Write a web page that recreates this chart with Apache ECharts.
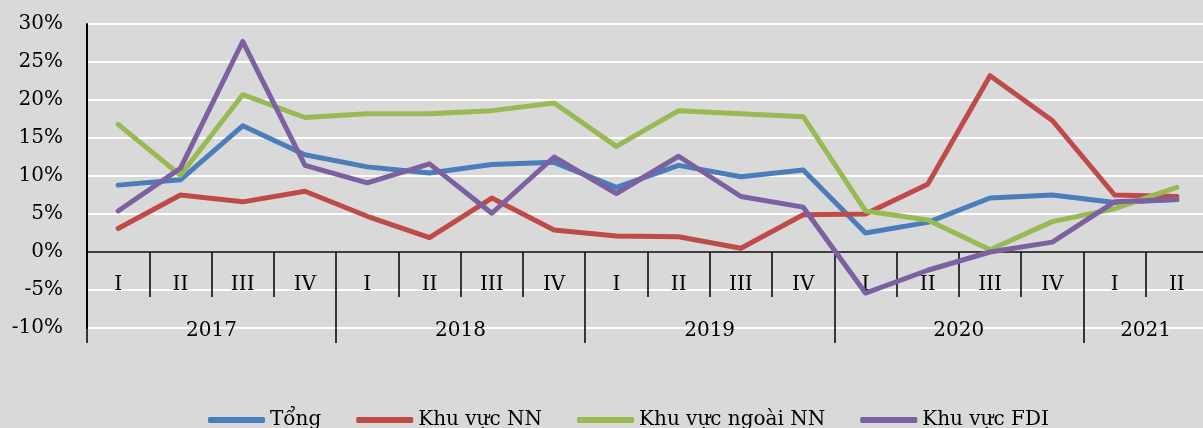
<!DOCTYPE html>
<html>
<head>
<meta charset="utf-8">
<script src="https://cdn.jsdelivr.net/npm/echarts@6/dist/echarts.min.js"></script>
<style>
  html, body { margin: 0; padding: 0; background: #d9d9d9; }
  #main { width: 1203px; height: 428px; }
</style>
</head>
<body>
<div id="main"></div>
<script>
// quý và năm
var quarters = ['I', 'II', 'III', 'IV', 'I', 'II', 'III', 'IV', 'I', 'II', 'III', 'IV', 'I', 'II', 'III', 'IV', 'I', 'II'];
var years = ['2017', '2018', '2019', '2020', '2021'];
var quartersPerYear = [4, 4, 4, 4, 2];

// tốc độ tăng (%)
var tong = [8.8, 9.5, 16.6, 12.8, 11.2, 10.4, 11.5, 11.8, 8.5, 11.4, 9.9, 10.8, 2.5, 3.9, 7.1, 7.5, 6.5, 6.9];
var khuVucNN = [3.1, 7.5, 6.6, 8.0, 4.7, 1.9, 7.1, 2.9, 2.1, 2.0, 0.5, 4.9, 5.0, 8.9, 23.2, 17.3, 7.5, 7.3];
var ngoaiNN = [16.8, 10.1, 20.7, 17.7, 18.2, 18.2, 18.6, 19.6, 13.9, 18.6, 18.2, 17.8, 5.4, 4.2, 0.3, 4.0, 5.7, 8.5];
var fdi = [5.4, 11.0, 27.7, 11.4, 9.1, 11.6, 5.1, 12.5, 7.7, 12.6, 7.3, 5.9, -5.4, -2.4, 0.0, 1.3, 6.6, 6.9];

var seriesNames = ['Tổng', 'Khu vực NN', 'Khu vực ngoài NN', 'Khu vực FDI'];
var colors = ['#4a7ebb', '#be4b48', '#98b954', '#7d60a0'];

// nhãn năm đặt ở giữa mỗi nhóm quý, còn vạch năm ở đầu mỗi nhóm
var yearAxisData = [];
var yearStarts = {};
var pos = 0;
for (var y = 0; y < years.length; y++) {
    var n = quartersPerYear[y];
    yearStarts[pos] = true;
    for (var k = 0; k < n; k++) {
        yearAxisData.push(k === Math.floor(n / 2) - 1 ? years[y] : '');
    }
    pos += n;
}

var font = 'DejaVu Serif';
var labelStyle = {fontFamily: font, fontSize: 20, color: '#000'};

var myChart = echarts.init(document.getElementById('main'));

var option = {
    backgroundColor: '#d9d9d9',
    color: colors,
    animation: false,
    // grid 0: các đường; grid 1: trục quý/năm bắt đầu từ mức 0%
    grid: [
        {left: 87, right: -5, top: 24, bottom: 100, containLabel: false, outerBoundsMode: 'none'},
        {left: 87, right: -5, top: 252, height: 91, containLabel: false, outerBoundsMode: 'none'}
    ],
    legend: {
        data: seriesNames,
        left: 208,
        top: 410,
        padding: 0,
        itemGap: 35,
        itemWidth: 57,
        itemHeight: 6,
        icon: 'roundRect',
        textStyle: labelStyle
    },
    xAxis: [
        {
            gridIndex: 0,
            type: 'category',
            data: quarters,
            boundaryGap: true,
            axisLine: {show: false},
            axisTick: {show: false},
            axisLabel: {show: false},
            splitLine: {show: false}
        },
        {
            gridIndex: 1,
            type: 'category',
            data: quarters,
            position: 'top',
            boundaryGap: true,
            axisLine: {show: true, onZero: false, lineStyle: {color: '#000', width: 1.5}},
            axisTick: {show: true, inside: true, interval: 0, length: 45, lineStyle: {color: '#000', width: 1.5}},
            axisLabel: Object.assign({interval: 0, inside: true, margin: 23}, labelStyle),
            splitLine: {show: false}
        },
        {
            gridIndex: 1,
            type: 'category',
            data: yearAxisData,
            position: 'top',
            boundaryGap: true,
            axisLine: {show: false, onZero: false},
            axisTick: {
                show: true,
                inside: true,
                length: 91,
                interval: function(index) { return !!yearStarts[index]; },
                lineStyle: {color: '#000', width: 1.5}
            },
            axisLabel: Object.assign({
                interval: function(index, value) { return value !== ''; },
                inside: true,
                margin: 69,
                padding: [0, 0, 0, 62]
            }, labelStyle),
            splitLine: {show: false}
        }
    ],
    yAxis: [
        {
            gridIndex: 0,
            type: 'value',
            min: -10,
            max: 30,
            interval: 5,
            axisLine: {show: true, lineStyle: {color: '#000', width: 2}},
            axisTick: {show: false},
            axisLabel: Object.assign({formatter: '{value}%', margin: 24}, labelStyle),
            splitLine: {show: true, lineStyle: {color: '#ffffff', width: 1.8}}
        },
        {
            gridIndex: 1,
            type: 'value',
            show: false,
            min: 0,
            max: 1
        }
    ],
    series: [
        {name: seriesNames[0], type: 'line', data: tong},
        {name: seriesNames[1], type: 'line', data: khuVucNN},
        {name: seriesNames[2], type: 'line', data: ngoaiNN},
        {name: seriesNames[3], type: 'line', data: fdi}
    ].map(function(s) {
        s.symbol = 'none';
        s.xAxisIndex = 0;
        s.yAxisIndex = 0;
        s.z = 5;
        s.lineStyle = {width: 5, cap: 'round', join: 'round'};
        return s;
    })
};

myChart.setOption(option);
</script>
</body>
</html>
